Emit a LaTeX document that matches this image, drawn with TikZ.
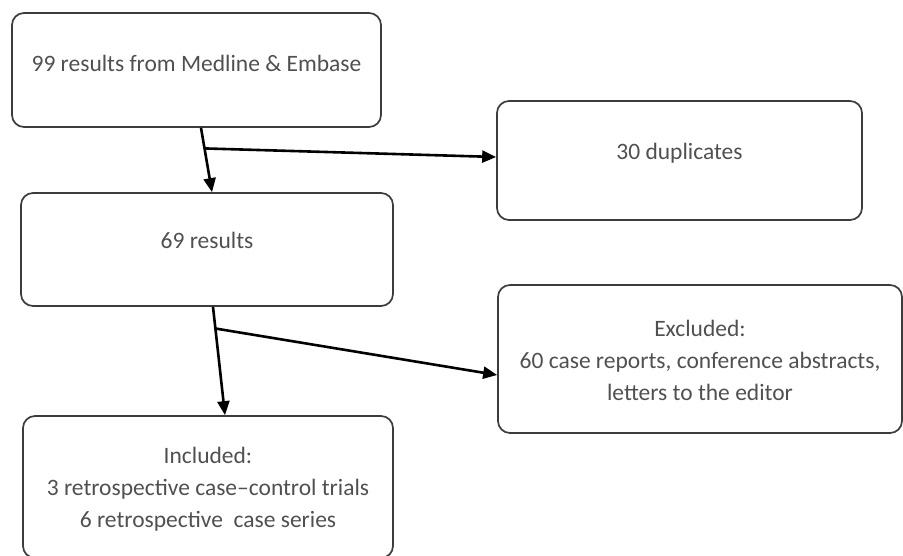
\documentclass[tikz,border=0pt]{standalone}
\usepackage{fontspec}
\setmainfont{Carlito}
\usetikzlibrary{arrows.meta,calc}

\begin{document}
\begin{tikzpicture}[x=1pt,y=-1pt]
  % Record screening: boxes at pixel centres, y grows downward.
  \definecolor{boxline}{HTML}{3C3C3C}
  \definecolor{boxtext}{HTML}{505050}
  \useasboundingbox (0,0) rectangle (903,556);
  \tikzset{
    stage/.style={draw=boxline, line width=1.7pt, rounded corners=12pt, inner sep=0pt},
    stagetext/.style={align=center, text=boxtext, font=\fontsize{23.5}{32}\selectfont},
    flow/.style={line width=2.6pt, -{Triangle[length=14pt,width=12pt]}}
  }
  \node[stage, minimum width=369, minimum height=114] (search) at (196.5,70) {};
  \node[stage, minimum width=365, minimum height=119] (dup) at (679.5,160.5) {};
  \node[stage, minimum width=372, minimum height=113] (unique) at (207,249.5) {};
  \node[stage, minimum width=404, minimum height=148] (excl) at (700,359) {};
  \node[stage, minimum width=370, minimum height=142] (incl) at (208,487) {};

  \node[stagetext] (searchtxt) at ($(search.center)+(0,-7)$) {99 results from Medline \& Embase};
  \node[stagetext] (duptxt) at ($(dup.center)+(0,-7)$) {30 duplicates};
  \node[stagetext] (uniquetxt) at ($(unique.center)+(0,-9)$) {69 results};
  \node[stagetext] (excltxt) at ($(excl.center)+(0,1)$) {Excluded:\\60 case reports, conference abstracts,\\letters to the editor};
  \node[stagetext] (incltxt) at ($(incl.center)+(0,2)$) {Included:\\3 retrospective case--control trials\\6 retrospective~ case series};

  % Slanted drops with side branches.
  \coordinate (drop1) at (201,0 |- search.south);
  \coordinate (land1) at (212,0 |- unique.north);
  \coordinate (drop2) at (213,0 |- unique.south);
  \coordinate (land2) at (225,0 |- incl.north);
  \draw[flow] (drop1) -- (land1);
  \draw[flow] ($(drop1)!0.32!(land1)$) -- (dup.west |- 0,157);
  \draw[flow] (drop2) -- (land2);
  \draw[flow] ($(drop2)!0.2!(land2)$) -- (excl.west |- 0,375);
\end{tikzpicture}
\end{document}
